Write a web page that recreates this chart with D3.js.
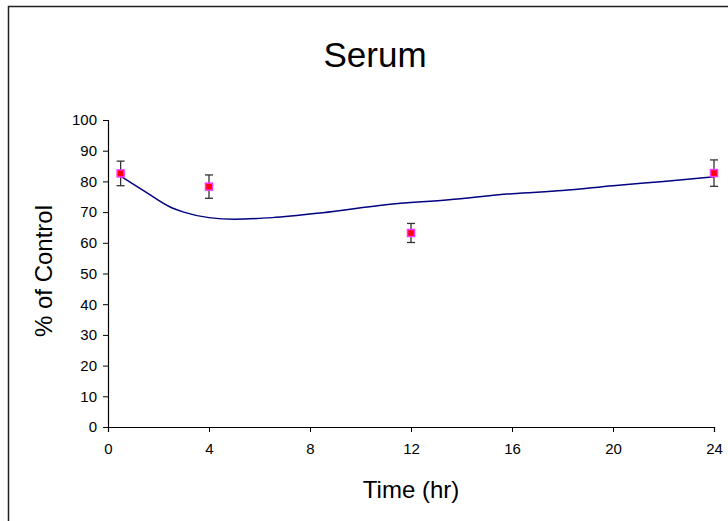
<!DOCTYPE html>
<html>
<head>
<meta charset="utf-8">
<script src="https://cdn.jsdelivr.net/npm/d3@7"></script>
<style>
  html, body { margin: 0; padding: 0; background: #fff; }
  svg { display: block; font-family: "Liberation Sans", Arial, sans-serif; }
</style>
</head>
<body>
<svg id="chart" width="728" height="521"></svg>
<script>
// Measured serum levels (% of control) with error bars
const sampleTimes = [0.5, 4, 12, 24];
const sampleMeans = [82.6, 78.3, 63.2, 82.7];
const sampleErrors = [4.0, 3.8, 3.1, 4.3];

// Fitted model curve
const fitTimes = [0.5, 1.5, 2.5, 3, 4, 5, 6.5, 8.5, 11, 13.5, 16, 18, 20, 22, 24];
const fitValues = [81.7, 76.5, 71.5, 70.0, 68.2, 67.7, 68.2, 69.8, 72.4, 74.0, 76.0, 77.0, 78.6, 80.0, 81.5];

const xTicks = [0, 4, 8, 12, 16, 20, 24];
const yTicks = [0, 10, 20, 30, 40, 50, 60, 70, 80, 90, 100];

const svg = d3.select("#chart");

// chart frame
svg.append("rect")
  .attr("x", 8.5).attr("y", 6.5)
  .attr("width", 800).attr("height", 600)
  .attr("fill", "none").attr("stroke", "#222").attr("stroke-width", 1.5);

const x = d3.scaleLinear().domain([0, 24]).range([108, 714]);
const y = d3.scaleLinear().domain([0, 100]).range([427, 120]);

// axes
const xAxis = svg.append("g")
  .attr("transform", `translate(0,${y(0)})`)
  .call(d3.axisBottom(x).tickValues(xTicks).tickSize(5).tickPadding(11).tickFormat(d3.format("d")));
const yAxis = svg.append("g")
  .attr("transform", `translate(${x(0)},0)`)
  .call(d3.axisLeft(y).tickValues(yTicks).tickSize(5).tickPadding(6).tickFormat(d3.format("d")));

[xAxis, yAxis].forEach(g => {
  g.select(".domain").attr("stroke", "#000").attr("stroke-width", 1.2);
  g.selectAll(".tick line").attr("stroke", "#000");
  g.selectAll(".tick text")
    .attr("fill", "#000")
    .style("font-size", "15px")
    .style("font-family", "'Liberation Sans', Arial, sans-serif");
});

// fitted curve
const line = d3.line()
  .x((d, i) => x(fitTimes[i]))
  .y(d => y(d))
  .curve(d3.curveMonotoneX);
svg.append("path")
  .datum(fitValues)
  .attr("d", line)
  .attr("fill", "none")
  .attr("stroke", "#000080")
  .attr("stroke-width", 1.5);

// error bars
const err = svg.append("g").attr("stroke", "#333").attr("stroke-width", 1.3);
sampleTimes.forEach((t, i) => {
  const cx = x(t), hi = y(sampleMeans[i] + sampleErrors[i]), lo = y(sampleMeans[i] - sampleErrors[i]);
  err.append("line").attr("x1", cx).attr("x2", cx).attr("y1", hi).attr("y2", lo);
  err.append("line").attr("x1", cx - 4).attr("x2", cx + 4).attr("y1", hi).attr("y2", hi);
  err.append("line").attr("x1", cx - 4).attr("x2", cx + 4).attr("y1", lo).attr("y2", lo);
});

// markers
svg.append("g").selectAll("rect")
  .data(sampleTimes)
  .join("rect")
  .attr("x", d => x(d) - 3.5)
  .attr("y", (d, i) => y(sampleMeans[i]) - 3.5)
  .attr("width", 7).attr("height", 7)
  .attr("fill", "#ff0000")
  .attr("stroke", "#ff33ff")
  .attr("stroke-width", 1.5);

// titles
svg.append("text")
  .attr("x", 375).attr("y", 67)
  .attr("text-anchor", "middle")
  .style("font-size", "35px")
  .text("Serum");

svg.append("text")
  .attr("x", 411).attr("y", 498)
  .attr("text-anchor", "middle")
  .style("font-size", "24px")
  .text("Time (hr)");

svg.append("text")
  .attr("transform", `translate(52,${271}) rotate(-90)`)
  .attr("text-anchor", "middle")
  .style("font-size", "24px")
  .text("% of Control");
</script>
</body>
</html>
